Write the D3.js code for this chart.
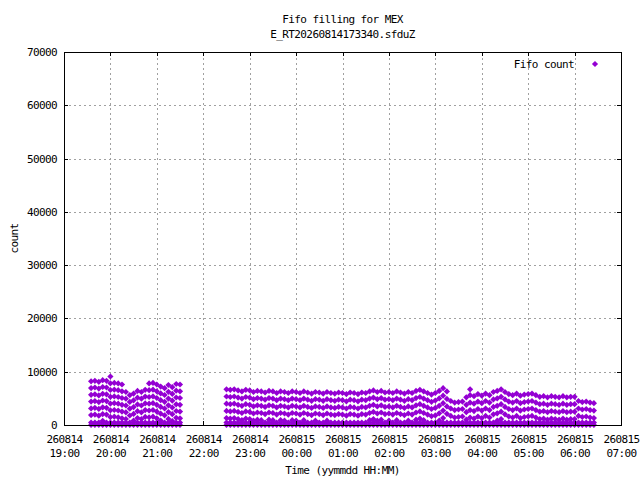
<!DOCTYPE html>
<html>
<head>
<meta charset="utf-8">
<script src="https://cdn.jsdelivr.net/npm/d3@7"></script>
<style>
  body { margin: 0; background: #fff; }
  text { font-family: "DejaVu Sans Mono", monospace; font-size: 11px; letter-spacing: -0.6px; fill: #000; }
</style>
</head>
<body>
<svg id="chart" width="640" height="480"></svg>
<script>
// start of each recording block, sampled every 5 minutes
const segStarts = ['2026-08-14 19:35', '2026-08-14 22:30', '2026-08-15 03:00']

// highest fill level seen per 5 minute sample
const seg1Tops = [8200, 8300, 8100, 8400, 8300, 9100, 7900, 7800, 7600, 6200, 5600, 5900,
  6400, 6200, 6600, 7800, 7900, 7600, 7200, 6900, 7500, 7100, 7700, 7600]
const seg2Tops = [6700, 6600, 6700, 6500, 6300, 6600, 6500, 6200, 6400, 6300, 6100, 6400,
  6300, 6000, 6300, 6200, 6000, 6300, 6200, 6000, 6300, 6100, 5900, 6200,
  6100, 5900, 6200, 6000, 5900, 6100, 6000, 5800, 6100, 6000, 5800, 6100,
  6000, 6300, 6500, 6200, 6400, 6100, 6200, 6000, 6300, 6100, 5900, 6200,
  6000, 6400, 6600, 6300, 6000, 5700]
const seg3Tops = [6000, 6400, 6900, 6300, 4500, 4200, 4300, 4400, 5200, 5600, 5400, 5800,
  5500, 5900, 5600, 6200, 6400, 6700, 6200, 5800, 5600, 5900, 5500, 5700,
  5800, 5900, 5600, 5300, 5400, 5200, 5400, 5300, 5200, 5400, 5200, 5300,
  5300, 4500, 4300, 4400, 4200, 4100]

// spacing between the fill steps in each block, and the rows near empty
const rowGaps = [1270, 1350, 1400]
const baseRows = [0, 450]

// odd single readings
const extraTimes = ['2026-08-15 03:45']
const extraCounts = [6700]

const yTicks = [0, 10000, 20000, 30000, 40000, 50000, 60000, 70000]

const parse = d3.timeParse('%Y-%m-%d %H:%M')
const W = 640, H = 480
const margin = { left: 64, right: 19, top: 52, bottom: 55 }
const x0 = margin.left, x1 = W - margin.right
const y0 = H - margin.bottom, y1 = margin.top

const xScale = d3.scaleTime()
  .domain([parse('2026-08-14 19:00'), parse('2026-08-15 07:00')])
  .range([x0, x1])
const yScale = d3.scaleLinear().domain([0, 70000]).range([y0, y1])

// one point per fill row for every sample
let points = []
const segTops = [seg1Tops, seg2Tops, seg3Tops]
segTops.forEach((tops, i) => {
  const start = parse(segStarts[i])
  tops.forEach((top, j) => {
    const t = d3.timeMinute.offset(start, j * 5)
    for (let v = top; v > 700; v -= rowGaps[i]) points.push({ t, v })
    baseRows.forEach(v => points.push({ t, v }))
  })
})
extraTimes.forEach((s, i) => points.push({ t: parse(s), v: extraCounts[i] }))

const svg = d3.select('#chart')
const purple = '#9400d3'
const diamond = 'M0,-3.1L3.1,0L0,3.1L-3.1,0Z'
const hours = xScale.ticks(d3.timeHour.every(1))

// grid
const grid = svg.append('g').attr('stroke', '#a0a0a0').attr('stroke-dasharray', '2,3')
  .attr('shape-rendering', 'crispEdges')
grid.selectAll('line.gx').data(hours.slice(1, -1)).enter().append('line')
  .attr('x1', d => Math.round(xScale(d)) + 0.5).attr('x2', d => Math.round(xScale(d)) + 0.5)
  .attr('y1', y0).attr('y2', y1)
grid.selectAll('line.gy').data(yTicks.slice(1, -1)).enter().append('line')
  .attr('y1', d => Math.round(yScale(d)) + 0.5).attr('y2', d => Math.round(yScale(d)) + 0.5)
  .attr('x1', x0).attr('x2', x1)

// legend
svg.append('text').attr('x', 574).attr('y', 68).attr('text-anchor', 'end').text('Fifo count')
svg.append('path').attr('d', diamond).attr('fill', purple).attr('transform', 'translate(595,64)')

// points
svg.append('g').selectAll('path').data(points).enter().append('path')
  .attr('d', diamond)
  .attr('fill', purple)
  .attr('transform', d => `translate(${xScale(d.t).toFixed(1)},${yScale(d.v).toFixed(1)})`)

// axes with inward ticks on all four sides
const fmtDay = d3.timeFormat('%y%m%d'), fmtHour = d3.timeFormat('%H:%M')
const xAxis = svg.append('g').attr('transform', `translate(0,${y0})`)
  .call(d3.axisBottom(xScale).tickValues(hours).tickSizeInner(-4).tickSizeOuter(0).tickPadding(10).tickFormat(''))
xAxis.selectAll('.tick text').each(function (d) {
  const t = d3.select(this)
  t.append('tspan').attr('x', 0).attr('dy', '0.71em').text(fmtDay(d))
  t.append('tspan').attr('x', 0).attr('dy', '14').text(fmtHour(d))
})
svg.append('g').attr('transform', `translate(0,${y1})`)
  .call(d3.axisTop(xScale).tickValues(hours).tickSizeInner(-4).tickSizeOuter(0).tickFormat(''))
svg.append('g').attr('transform', `translate(${x0},0)`)
  .call(d3.axisLeft(yScale).tickValues(yTicks).tickSizeInner(-4).tickSizeOuter(0).tickPadding(7).tickFormat(d3.format('d')))
svg.append('g').attr('transform', `translate(${x1},0)`)
  .call(d3.axisRight(yScale).tickValues(yTicks).tickSizeInner(-4).tickSizeOuter(0).tickFormat(''))
svg.selectAll('.domain').remove()
svg.selectAll('.tick line').attr('stroke', '#000').attr('shape-rendering', 'crispEdges')
svg.selectAll('g').filter(function () { return this.hasAttribute('font-family') })
  .attr('font-family', null).attr('font-size', null)

// frame
svg.append('rect').attr('x', x0 + 0.5).attr('y', y1 + 0.5).attr('width', x1 - x0).attr('height', y0 - y1)
  .attr('fill', 'none').attr('stroke', '#000').attr('shape-rendering', 'crispEdges')

// titles
svg.append('text').attr('x', (x0 + x1) / 2).attr('y', 23).attr('text-anchor', 'middle').text('Fifo filling for MEX')
svg.append('text').attr('x', (x0 + x1) / 2).attr('y', 38).attr('text-anchor', 'middle').text('E_RT20260814173340.sfduZ')
svg.append('text').attr('x', (x0 + x1) / 2).attr('y', 474).attr('text-anchor', 'middle').text('Time (yymmdd HH:MM)')
svg.append('text').attr('transform', `translate(18,${(y0 + y1) / 2}) rotate(-90)`)
  .attr('text-anchor', 'middle').text('count')
</script>
</body>
</html>
